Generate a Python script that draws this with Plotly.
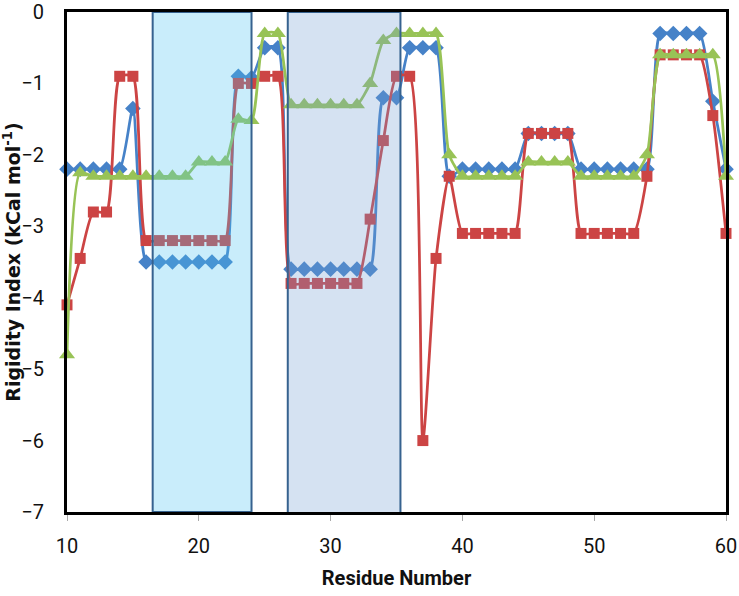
import plotly.graph_objects as go

residues = list(range(10, 61))

blue = [-2.2, -2.2, -2.2, -2.2, -2.2, -1.35,
        -3.5, -3.5, -3.5, -3.5, -3.5, -3.5, -3.5,
        -0.9, -0.92, -0.5, -0.5,
        -3.6, -3.6, -3.6, -3.6, -3.6, -3.6, -3.6,
        -1.2, -1.2, -0.5, -0.5, -0.5, -2.3,
        -2.2, -2.2, -2.2, -2.2, -2.2,
        -1.7, -1.7, -1.7, -1.7,
        -2.2, -2.2, -2.2, -2.2, -2.2, -2.2,
        -0.3, -0.3, -0.3, -0.3, -1.25, -2.2]

red = [-4.1, -3.45, -2.8, -2.8, -0.9, -0.9,
       -3.2, -3.2, -3.2, -3.2, -3.2, -3.2, -3.2,
       -1.0, -1.0, -0.9, -0.9,
       -3.8, -3.8, -3.8, -3.8, -3.8, -3.8, -2.9,
       -1.8, -0.9, -0.9, -6.0, -3.45, -2.3,
       -3.1, -3.1, -3.1, -3.1, -3.1,
       -1.7, -1.7, -1.7, -1.7,
       -3.1, -3.1, -3.1, -3.1, -3.1, -2.3,
       -0.6, -0.6, -0.6, -0.6, -1.45, -3.1]

green = [-4.8, -2.25, -2.3, -2.3, -2.3, -2.3,
         -2.3, -2.3, -2.3, -2.3, -2.1, -2.1, -2.1,
         -1.5, -1.52, -0.3, -0.3,
         -1.3, -1.3, -1.3, -1.3, -1.3, -1.3, -1.0,
         -0.4, -0.3, -0.3, -0.3, -0.3, -2.0,
         -2.3, -2.3, -2.3, -2.3, -2.3,
         -2.1, -2.1, -2.1, -2.1,
         -2.3, -2.3, -2.3, -2.3, -2.3, -2.0,
         -0.6, -0.6, -0.6, -0.6, -0.6, -2.3]

regions = [(16.5, 24.0), (26.75, 35.3)]
x_ticks = [10, 20, 30, 40, 50, 60]
y_ticks = [0, -1, -2, -3, -4, -5, -6, -7]

fig = go.Figure()
series = [
    ("Series 1", blue, "#4682C8", "diamond", 12),
    ("Series 2", red, "#CC4444", "square", 11),
    ("Series 3", green, "#98C356", "triangle-up", 14),
]
for name, vals, col, sym, sz in series:
    fig.add_trace(go.Scatter(
        x=residues, y=vals, name=name, mode="lines+markers",
        line=dict(color=col, width=2.75, shape="spline", smoothing=0.6),
        marker=dict(symbol=sym, size=sz, color=col),
        cliponaxis=False,
    ))

fills = ["rgba(75,195,242,0.3)", "rgba(115,158,212,0.3)"]
for (x0, x1), fc, y0 in zip(regions, fills, [-7.0, -7.06]):
    fig.add_shape(type="rect", xref="x", yref="y", x0=x0, x1=x1, y0=y0, y1=0,
                  fillcolor=fc, line=dict(color="#36628F", width=2), layer="above")

tickfont = dict(family="Liberation Sans Narrow, Roboto, Arial", size=20, color="#111")
fig.update_layout(
    width=739, height=596,
    margin=dict(l=67, r=13, t=12, b=84),
    plot_bgcolor="white", paper_bgcolor="white",
    showlegend=False,
    xaxis=dict(range=[10, 60], tickvals=x_ticks, showgrid=False, zeroline=False,
               automargin=False,
               showline=True, linecolor="black", linewidth=3, mirror=True,
               ticks="outside", ticklen=6, tickcolor="#aaa", tickwidth=1,
               tickfont=tickfont, ticklabelstandoff=8,
               title=dict(text="<b>Residue Number</b>", standoff=14,
                          font=dict(family="Liberation Sans Narrow, Roboto, Arial", size=20, color="#111"))),
    yaxis=dict(range=[-7, 0], tickvals=y_ticks, showgrid=False, zeroline=False,
               automargin=False,
               showline=True, linecolor="black", linewidth=3, mirror=True,
               ticks="", tickfont=tickfont, ticklabelstandoff=16,
               title=dict(text="<b>Rigidity Index (kCal mol<sup>-1</sup>)</b>", standoff=4,
                          font=dict(family="DejaVu Sans, Verdana, Arial", size=19, color="#111"))),
)

fig.write_html("out.html")
